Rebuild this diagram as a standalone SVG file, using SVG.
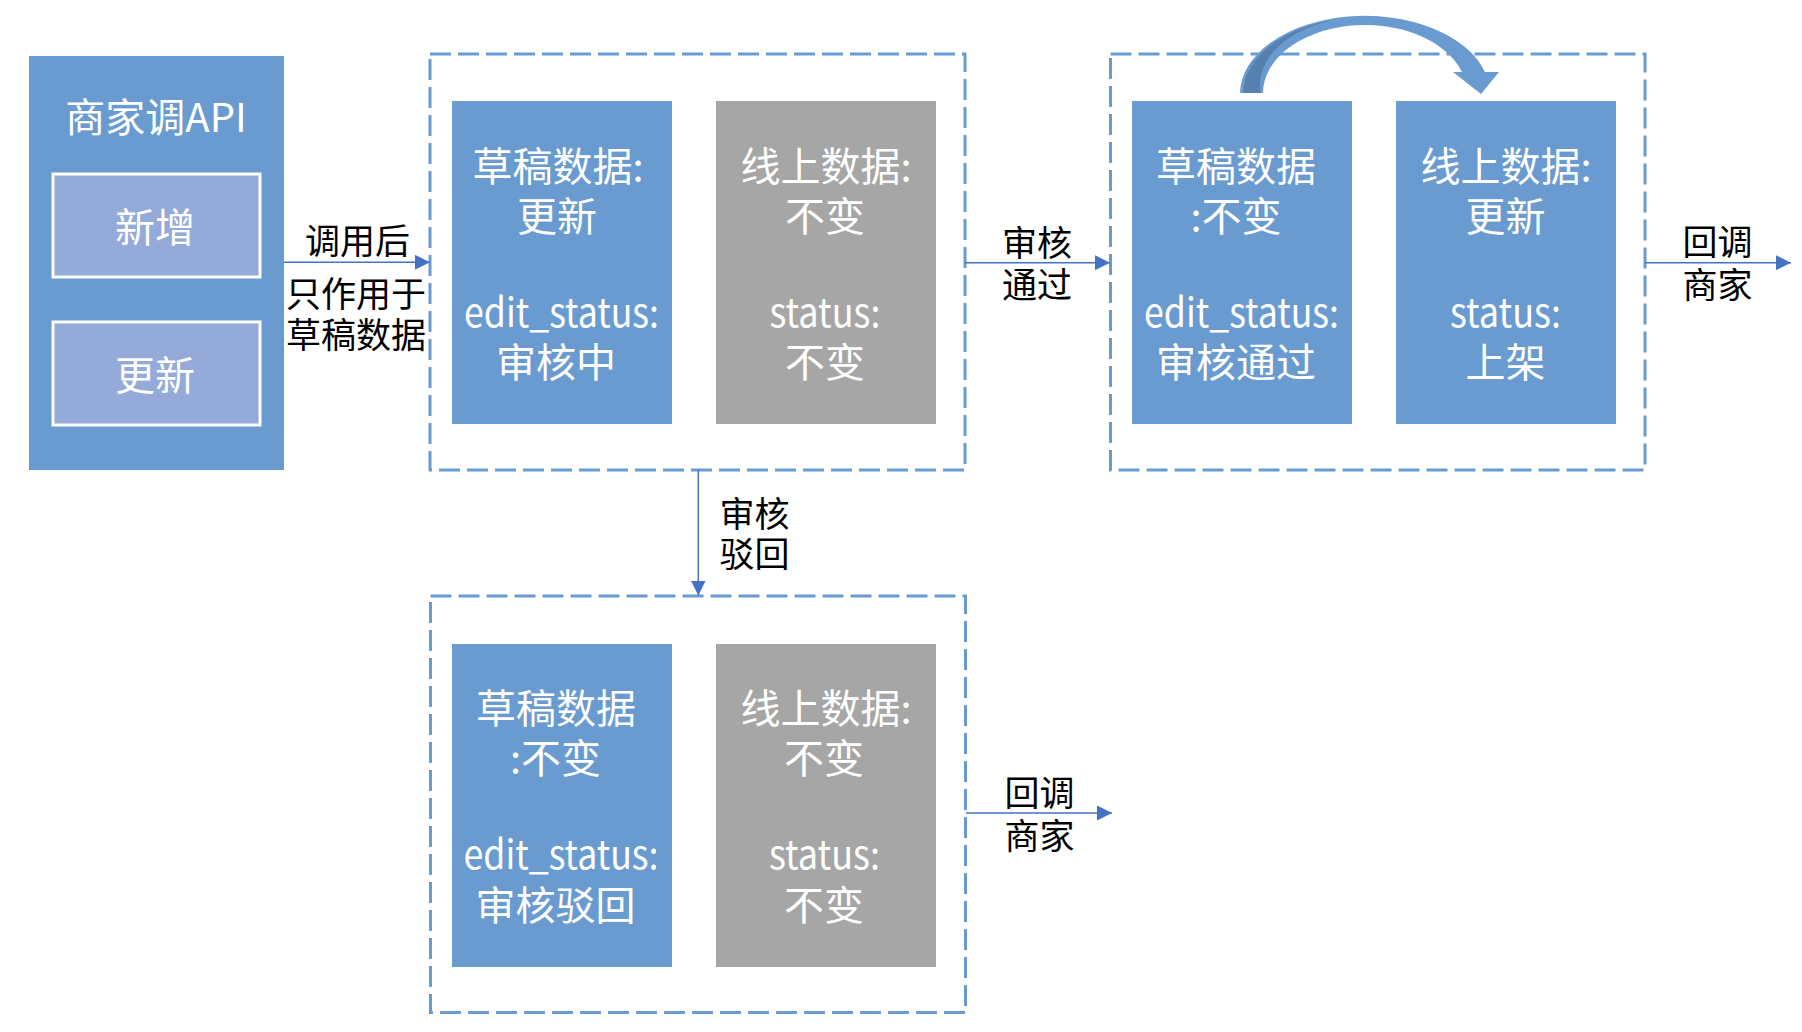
<svg xmlns="http://www.w3.org/2000/svg" width="1802" height="1032" viewBox="0 0 1802 1032">
<defs>
<style>
text{font-family:"Noto Sans CJK SC","Noto Sans",sans-serif;}
.w{fill:#fff;font-size:40px;text-anchor:middle}
.lbl{fill:#000;font-size:35px;text-anchor:middle}
.blue{fill:#699BD0}
.gray{fill:#A6A6A6}
.sub{fill:#94AAD8;stroke:#fff;stroke-width:3}
.dash{fill:none;stroke:#6A9BD0;stroke-width:3;stroke-dasharray:21 7}
.conn{stroke:#4472C4;stroke-width:1.5;fill:none}
</style>
<marker id="ah" markerUnits="userSpaceOnUse" markerWidth="15" markerHeight="15" viewBox="0 0 14 14" refX="14" refY="7" orient="auto"><path d="M0,0 L14,7 L0,14 Z" fill="#4472C4"/></marker>
</defs>
<rect width="1802" height="1032" fill="#fff"/>

<g id="api">
<rect class="blue" x="29" y="56" width="255" height="414"/>
<text class="w" x="156" y="132">商家调API</text>
<rect class="sub" x="53" y="174" width="207" height="103"/>
<text class="w" x="155" y="242">新增</text>
<rect class="sub" x="53" y="322" width="207" height="103"/>
<text class="w" x="155" y="390">更新</text>
</g>

<g id="stage1">
<rect class="dash" x="430" y="54" width="535" height="416"/>
<g id="draft1">
<rect class="blue" x="452" y="101" width="220" height="323"/>
<text class="w"><tspan x="558" y="180.5">草稿数据:</tspan><tspan x="557" y="230.5">更新</tspan><tspan x="561.5" y="326.7" textLength="195" lengthAdjust="spacingAndGlyphs">edit_status:</tspan><tspan x="556" y="377">审核中</tspan></text>
</g>
<g id="online1">
<rect class="gray" x="716" y="101" width="220" height="323"/>
<text class="w"><tspan x="826" y="180.5">线上数据:</tspan><tspan x="825" y="230.5">不变</tspan><tspan x="825" y="326.7" textLength="111" lengthAdjust="spacingAndGlyphs">status:</tspan><tspan x="825" y="377">不变</tspan></text>
</g>
</g>

<g id="stage2">
<rect class="dash" x="1110.5" y="54" width="534.5" height="416"/>
<g id="draft2">
<rect class="blue" x="1132" y="101" width="220" height="323"/>
<text class="w"><tspan x="1236" y="180.5">草稿数据</tspan><tspan x="1236" y="230.5">:不变</tspan><tspan x="1241.5" y="326.7" textLength="195" lengthAdjust="spacingAndGlyphs">edit_status:</tspan><tspan x="1236" y="377">审核通过</tspan></text>
</g>
<g id="online2">
<rect class="blue" x="1396" y="101" width="220" height="323"/>
<text class="w"><tspan x="1506" y="180.5">线上数据:</tspan><tspan x="1505.5" y="230.5">更新</tspan><tspan x="1505.5" y="326.7" textLength="111" lengthAdjust="spacingAndGlyphs">status:</tspan><tspan x="1505.5" y="377">上架</tspan></text>
</g>
</g>

<g id="stage3">
<rect class="dash" x="430.5" y="596" width="535" height="416.5"/>
<g id="draft3">
<rect class="blue" x="452" y="644" width="220" height="323"/>
<text class="w"><tspan x="556" y="722.5">草稿数据</tspan><tspan x="555.5" y="772.5">:不变</tspan><tspan x="561" y="869" textLength="195" lengthAdjust="spacingAndGlyphs">edit_status:</tspan><tspan x="555.5" y="919.5">审核驳回</tspan></text>
</g>
<g id="online3">
<rect class="gray" x="716" y="644" width="220" height="323"/>
<text class="w"><tspan x="826" y="722.5">线上数据:</tspan><tspan x="824" y="772.5">不变</tspan><tspan x="824.5" y="869" textLength="111" lengthAdjust="spacingAndGlyphs">status:</tspan><tspan x="824" y="919.5">不变</tspan></text>
</g>
</g>

<g id="connectors">
<line class="conn" x1="284" y1="262.3" x2="430" y2="262.3" marker-end="url(#ah)"/>
<text class="lbl"><tspan x="357.5" y="254">调用后</tspan><tspan x="356" y="306.5">只作用于</tspan><tspan x="356" y="347.5">草稿数据</tspan></text>

<line class="conn" x1="965" y1="262.7" x2="1110" y2="262.7" marker-end="url(#ah)"/>
<text class="lbl"><tspan x="1037" y="255.5">审核</tspan><tspan x="1037" y="297.5">通过</tspan></text>

<line class="conn" x1="1645" y1="262.7" x2="1791" y2="262.7" marker-end="url(#ah)"/>
<text class="lbl"><tspan x="1717.5" y="254.5">回调</tspan><tspan x="1717.5" y="297.5">商家</tspan></text>

<line class="conn" x1="698.3" y1="470" x2="698.3" y2="595.5" marker-end="url(#ah)"/>
<text class="lbl"><tspan x="754.5" y="526.5">审核</tspan><tspan x="754.5" y="567">驳回</tspan></text>

<line class="conn" x1="966" y1="813" x2="1112" y2="813" marker-end="url(#ah)"/>
<text class="lbl"><tspan x="1039.5" y="806">回调</tspan><tspan x="1039.5" y="848.5">商家</tspan></text>

<g id="curved-arrow">
<path d="M1240,93 A125,78 0 0 1 1485,72 L1499,72 L1481,94 L1453,72 L1462,72 A102,68 0 0 0 1263,93 Z" fill="#699BD0"/>
<path d="M1243.5,93 A121.5,75 0 0 1 1345,18.5 A102,68 0 0 0 1260.5,93 Z" fill="#5580AF"/>
</g>
</g>
</svg>
